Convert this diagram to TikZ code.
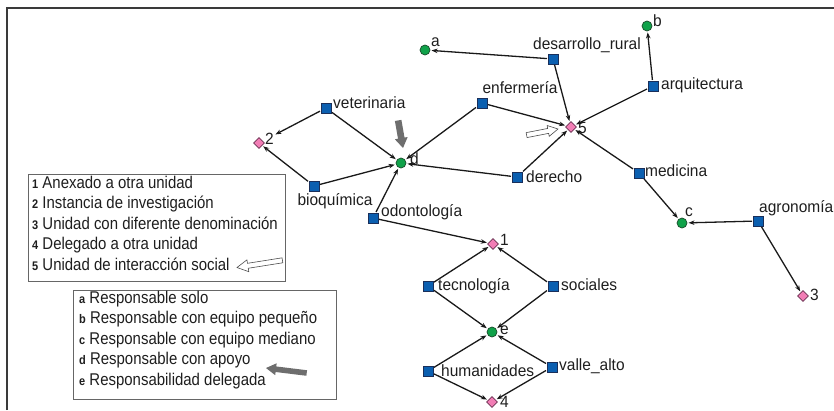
\documentclass[tikz,border=0pt]{standalone}
\usepackage{fontspec}
\setmainfont{Liberation Sans}
\newfontfamily\legfont{Liberation Sans}[FakeStretch=0.88]
\newfontfamily\lblfont{Liberation Sans}[FakeStretch=0.95]
\usetikzlibrary{arrows.meta,shapes.geometric}
\definecolor{sqfill}{HTML}{0B5FB0}
\definecolor{sqdraw}{HTML}{1A2F5A}
\definecolor{cifill}{HTML}{10A24A}
\definecolor{cidraw}{HTML}{1A4A2A}
\definecolor{dmfill}{HTML}{F27DB5}
\definecolor{dmdraw}{HTML}{6A3050}
\definecolor{framec}{HTML}{3A3A3A}
\definecolor{grayarrow}{HTML}{6E6E6E}
\definecolor{txt}{HTML}{1E1E1E}
\tikzset{
  unit/.style={draw=sqdraw,fill=sqfill,line width=0.8pt,minimum size=10pt,inner sep=0pt,outer sep=1pt},
  resp/.style={draw=cidraw,fill=cifill,line width=0.7pt,circle,minimum size=10pt,inner sep=0pt,outer sep=1.5pt},
  kind/.style={draw=dmdraw,fill=dmfill,line width=0.7pt,diamond,minimum size=12pt,inner sep=0pt,outer sep=1.5pt},
  lbl/.style={font=\lblfont\fontsize{16.3}{18}\selectfont,inner sep=0pt,text=txt},
  link/.style={line width=1.3pt,black!90,-{Stealth[length=6pt,width=4.5pt]}},
  legend/.style={draw=black!60,line width=0.8pt,anchor=north west,inner sep=0pt},
  legtext/.style={anchor=north west,inner sep=0pt,align=left,font=\legfont\fontsize{17}{20.5}\selectfont,text=txt},
  hollow/.style={draw=black!70,line width=0.6pt,fill=white},
  grayarr/.style={fill=grayarrow,draw=none},
}
\newcommand{\num}[1]{{\fontsize{12.5}{12}\selectfont\bfseries #1}}
\begin{document}
\begin{tikzpicture}[x=1pt,y=-1pt]
\useasboundingbox (0,0) rectangle (834,410);
% frame
\draw[framec,line width=1.6pt] (7,410) coordinate (fbl) -- (7,8) coordinate (ftl) -- (834,8) coordinate (ftr);

% responsibility nodes (circles)
\node[resp] (a) at (425,50) {};
\node[resp] (b) at (647,26) {};
\node[resp] (c) at (682,223) {};
\node[resp] (d) at (401,163) {};
\node[resp] (e) at (492,332) {};
% kinds (diamonds)
\node[kind] (k1) at (493,244) {};
\node[kind] (k2) at (259,143) {};
\node[kind] (k3) at (803,296) {};
\node[kind] (k4) at (492,402) {};
\node[kind] (k5) at (571,127) {};
% units (squares)
\node[unit] (des) at (553,59) {};
\node[unit] (arq) at (653,86) {};
\node[unit] (enf) at (482,103) {};
\node[unit] (der) at (517,177) {};
\node[unit] (med) at (639,173) {};
\node[unit] (agr) at (758,221) {};
\node[unit] (vet) at (326,108) {};
\node[unit] (bio) at (314,186) {};
\node[unit] (odo) at (373,218) {};
\node[unit] (tec) at (428,286) {};
\node[unit] (soc) at (553,286) {};
\node[unit] (hum) at (428,371) {};
\node[unit] (val) at (552,367) {};

% labels
\node[lbl,anchor=west] (la) at (431,42) {a};
\node[lbl,anchor=west] (lb) at (653,21) {b};
\node[lbl,anchor=west] (lc) at (685,212) {c};
\node[lbl,anchor=west] (ld) at (410,159) {d};
\node[lbl,anchor=west] (le) at (500,330) {e};
\node[lbl,anchor=west] (l1) at (500,240) {1};
\node[lbl,anchor=west] (l2) at (265,139) {2};
\node[lbl,anchor=west] (l3) at (810,295) {3};
\node[lbl,anchor=west] (l4) at (500,402) {4};
\node[lbl,anchor=west] (l5) at (578,128) {5};
\node[lbl] (ldes) at (587,45) {desarrollo\_rural};
\node[lbl,anchor=west] (larq) at (661,85) {arquitectura};
\node[lbl] (lenf) at (520,88) {enfermería};
\node[lbl,anchor=west] (lder) at (526,177) {derecho};
\node[lbl,anchor=west] (lmed) at (645,171) {medicina};
\node[lbl,anchor=west] (lagr) at (759,208) {agronomía};
\node[lbl,anchor=west] (lvet) at (333,103) {veterinaria};
\node[lbl] (lbio) at (335,201) {bioquímica};
\node[lbl,anchor=west] (lodo) at (381,212) {odontología};
\node[lbl,anchor=west] (ltec) at (438,286) {tecnología};
\node[lbl,anchor=west] (lsoc) at (561,285) {sociales};
\node[lbl,anchor=west] (lhum) at (441,371) {humanidades};
\node[lbl,anchor=west] (lval) at (559,366) {valle\_alto};

% links
\draw[link] (des) -- (a);
\draw[link] (des) -- (k5);
\draw[link] (arq) -- (b);
\draw[link] (arq) -- (k5);
\draw[link] (enf) -- (k5);
\draw[link] (enf) -- (d);
\draw[link] (der) -- (k5);
\draw[link] (der) -- (d);
\draw[link] (med) -- (k5);
\draw[link] (med) -- (c);
\draw[link] (agr) -- (c);
\draw[link] (agr) -- (k3);
\draw[link,shorten >=13pt] (vet) -- (k2);
\draw[link] (vet) -- (d);
\draw[link] (bio) -- (k2);
\draw[link] (bio) -- (d);
\draw[link] (odo) -- (d);
\draw[link] (odo) -- (k1);
\draw[link] (tec) -- (k1);
\draw[link] (tec) -- (e);
\draw[link] (soc) -- (k1);
\draw[link] (soc) -- (e);
\draw[link] (hum) -- (e);
\draw[link] (hum) -- (k4);
\draw[link] (val) -- (e);
\draw[link] (val) -- (k4);

% legends
\node[legend,minimum width=257pt,minimum height=107pt] (leg1) at (28,174) {};
\node[legtext] (leg1t) at (32,175.5) {%
\num{1} Anexado a otra unidad\\
\num{2} Instancia de investigación\\
\num{3} Unidad con diferente denominación\\
\num{4} Delegado a otra unidad\\
\num{5} Unidad de interacción social};
\node[legend,minimum width=263pt,minimum height=109pt] (leg2) at (73,290) {};
\node[legtext] (leg2t) at (79,290.5) {%
\num{a} Responsable solo\\
\num{b} Responsable con equipo pequeño\\
\num{c} Responsable con equipo mediano\\
\num{d} Responsable con apoyo\\
\num{e} Responsabilidad delegada};

% hollow arrows
\begin{scope}[shift={(558,129)},rotate=11]
\draw[hollow] (0,0) -- (-10,5.5) -- (-10,2.5) -- (-32,2.5) -- (-32,-2.5) -- (-10,-2.5) -- (-10,-5.5) -- cycle;
\end{scope}
\begin{scope}[shift={(237,267.5)},rotate=189]
\draw[hollow] (0,0) -- (-11,6) -- (-11,2.5) -- (-46,2.5) -- (-46,-2.5) -- (-11,-2.5) -- (-11,-6) -- cycle;
\end{scope}
% gray arrows
\begin{scope}[shift={(403,148)},rotate=-80]
\fill[grayarr] (0,0) -- (-10,6.5) -- (-10,3.3) -- (-28,3.3) -- (-28,-3.3) -- (-10,-3.3) -- (-10,-6.5) -- cycle;
\end{scope}
\begin{scope}[shift={(266,368)},rotate=173]
\fill[grayarr] (0,0) -- (-10,6) -- (-10,2.8) -- (-41,2.8) -- (-41,-2.8) -- (-10,-2.8) -- (-10,-6) -- cycle;
\end{scope}
\end{tikzpicture}
\end{document}
